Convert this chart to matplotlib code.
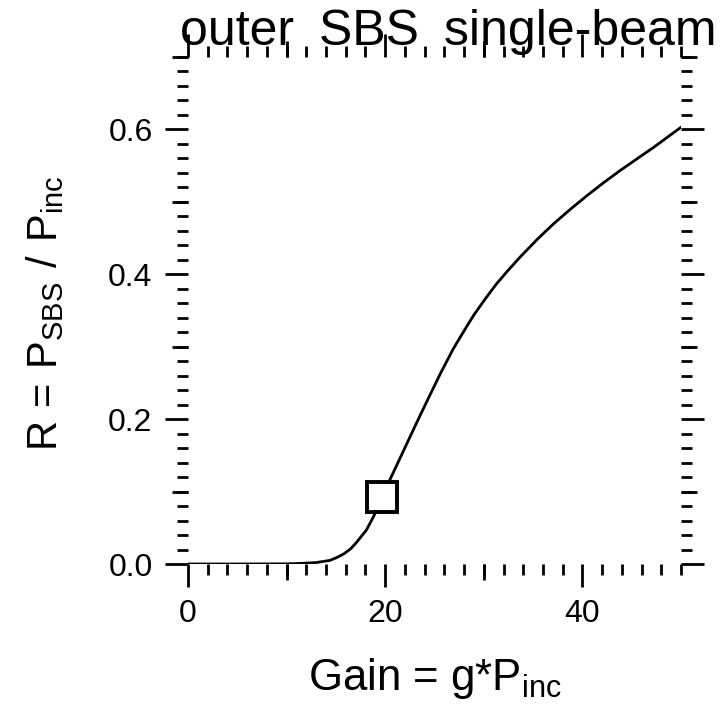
import matplotlib
matplotlib.use('Agg')
import matplotlib.pyplot as plt
from matplotlib.ticker import MultipleLocator, FixedLocator

plt.rcParams['font.family'] = ['Liberation Sans', 'DejaVu Sans']
plt.rcParams['mathtext.fontset'] = 'custom'
plt.rcParams['mathtext.rm'] = 'Liberation Sans'
plt.rcParams['mathtext.it'] = 'Liberation Sans:italic'

# curve
gain = [0, 5, 10, 11.4, 13, 14.4, 15.1, 15.8, 16.5, 17.1, 18.1, 18.8, 19.7,
        20.5, 21.5, 22.5, 23.5, 24.6, 25.6, 26.9, 28.0, 29.0, 30.2, 31.3,
        32.5, 33.7, 35.4, 37.1, 38.8, 40.5, 42.2, 43.9, 45.6, 47.2, 48.6, 50]
refl = [0, 0, 0.0002, 0.0008, 0.002, 0.005, 0.009, 0.014, 0.021, 0.030,
        0.047, 0.065, 0.092, 0.117, 0.146, 0.175, 0.204, 0.235, 0.263, 0.297,
        0.322, 0.344, 0.367, 0.387, 0.406, 0.424, 0.448, 0.470, 0.490, 0.509,
        0.527, 0.544, 0.560, 0.575, 0.589, 0.603]

# highlighted point
mark_gain = [19.7]
mark_refl = [0.092]

x_major = [0, 20, 40]
x_mid = [10, 30]
y_major = [0.0, 0.2, 0.4, 0.6]
y_mid = [0.1, 0.3, 0.5, 0.7]

# slightly wider spaces than normal, like the original labels
EN = '\u2002'
MID = '\u2004'

fig = plt.figure(figsize=(7.25, 7.07), dpi=100)
ax = fig.add_axes([188 / 725, 1 - 564 / 707, (681 - 188) / 725, (564 - 57) / 707])

ax.plot(gain, refl, color='black', lw=2.0, zorder=3)
ax.plot(mark_gain, mark_refl, 's', ms=21.5, mfc='white', mec='black', mew=2.8, zorder=4)

ax.set_xlim(0, 50)
ax.set_ylim(0, 0.7)

for s in ax.spines.values():
    s.set_visible(False)

ax.xaxis.set_major_locator(FixedLocator(x_major))
ax.xaxis.set_minor_locator(MultipleLocator(2))
ax.yaxis.set_major_locator(FixedLocator(y_major))
ax.yaxis.set_minor_locator(MultipleLocator(0.02))
ax.set_yticklabels(['%.1f' % v for v in y_major])

ax.tick_params(which='both', direction='out', top=True, right=True, width=2, color='black')
ax.tick_params(which='major', length=16.5, labelsize=23, pad=9)
ax.tick_params(which='minor', length=8)

# medium ticks at the odd tens
for side in ['bottom', 'top']:
    sec = ax.secondary_xaxis(side)
    sec.set_xticks(x_mid)
    sec.tick_params(direction='out', length=11.5, width=2, labelbottom=False, labeltop=False)
    for s in sec.spines.values():
        s.set_visible(False)
for side in ['left', 'right']:
    sec = ax.secondary_yaxis(side)
    sec.set_yticks(y_mid)
    sec.tick_params(direction='out', length=11.5, width=2, labelleft=False, labelright=False)
    for s in sec.spines.values():
        s.set_visible(False)

xlab = r'Gain = g*P$_\mathrm{inc}$'
ylab = 'R' + MID + '=' + MID + r'P$_\mathrm{SBS}$' + MID + '/' + MID + r'P$_\mathrm{inc}$'
title = 'outer' + EN + 'SBS' + EN + 'single-beam'

fig.text(435 / 725, 1 - 690 / 707, xlab, ha='center', va='baseline', fontsize=31.5)
fig.text(45 / 725, 1 - 313 / 707, ylab, ha='center', va='center', rotation=90, fontsize=30)
fig.text(448 / 725, 1 - 45 / 707, title, ha='center', va='baseline', fontsize=36)

fig.savefig('out.png', dpi=100)
